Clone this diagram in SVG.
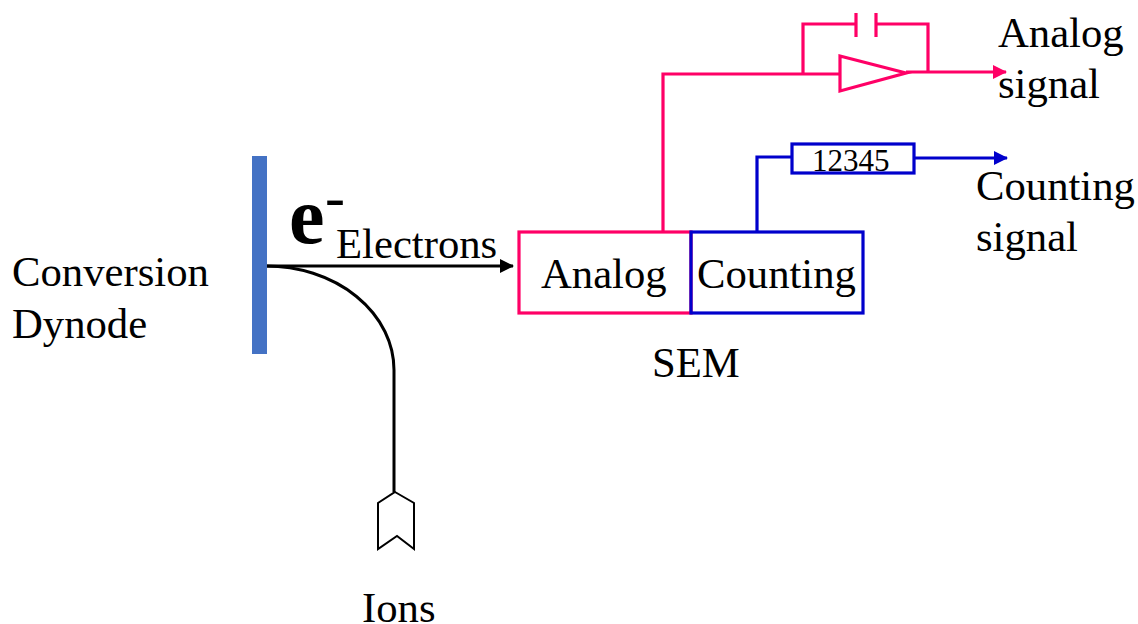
<svg xmlns="http://www.w3.org/2000/svg" width="1138" height="624" viewBox="0 0 1138 624">
<defs>
<marker id="ap" markerUnits="userSpaceOnUse" markerWidth="14" markerHeight="14" refX="13" refY="7" orient="auto"><path d="M0 0L14 7L0 14z" fill="#ff0066"/></marker>
<marker id="ab" markerUnits="userSpaceOnUse" markerWidth="14" markerHeight="14" refX="13" refY="7" orient="auto"><path d="M0 0L14 7L0 14z" fill="#0000cc"/></marker>
<marker id="ak" markerUnits="userSpaceOnUse" markerWidth="14" markerHeight="14" refX="13" refY="7" orient="auto"><path d="M0 0L14 7L0 14z" fill="#000"/></marker>
</defs>
<style>
text{font-family:"Liberation Serif","Times New Roman",serif;font-size:42.7px;fill:#000}
.p{fill:none;stroke:#ff0066;stroke-width:3.2}
.b{fill:none;stroke:#0000cc;stroke-width:3.2}
.k{fill:none;stroke:#000;stroke-width:3}
</style>
<rect width="1138" height="624" fill="#fff"/>
<g id="connectors">
<path class="k" d="M266 266H513" marker-end="url(#ak)"/>
<path class="k" d="M266 266A128 104 0 0 1 394 370V492"/>
<path class="p" d="M663 231V74H840"/>
<path class="p" d="M803 74V24H856M876 24H928V72"/>
<path class="p" d="M906 72H1006" marker-end="url(#ap)"/>
<path class="b" d="M757 231V157H792"/>
<path class="b" d="M914 158H1007" marker-end="url(#ab)"/>
</g>
<g id="capacitor"><path class="p" d="M856 13V37M876 13V37"/></g>
<g id="dynode"><rect x="252" y="156" width="15" height="198" fill="#4472c4"/><text x="12" y="286">Conversion</text><text x="12" y="338">Dynode</text></g>
<g id="electrons"><text x="289" y="243" style="font-size:80px;font-weight:bold">e</text><text x="325" y="217" style="font-size:60px">-</text><text x="336" y="258">Electrons</text></g>
<g id="analog"><rect class="p" x="519" y="232" width="172" height="81"/><text x="541" y="288">Analog</text></g>
<g id="counting"><rect class="b" x="691" y="232" width="172" height="81"/><text x="697" y="288">Counting</text></g>
<g id="sem"><text x="652" y="377">SEM</text></g>
<g id="amplifier"><path class="p" d="M840 56L906 73L840 91z"/></g>
<g id="counter"><rect class="b" x="792" y="144" width="122" height="29"/><text x="812" y="171" style="font-size:31px">12345</text></g>
<g id="analog-signal"><text x="998" y="47">Analog</text><text x="998" y="98">signal</text></g>
<g id="counting-signal"><text x="976" y="200">Counting</text><text x="976" y="251">signal</text></g>
<g id="ions"><path d="M395 492L414 503V549L397 536L378 549V503z" fill="#fff" stroke="#000" stroke-width="2"/><text x="362" y="622">Ions</text></g>
</svg>
